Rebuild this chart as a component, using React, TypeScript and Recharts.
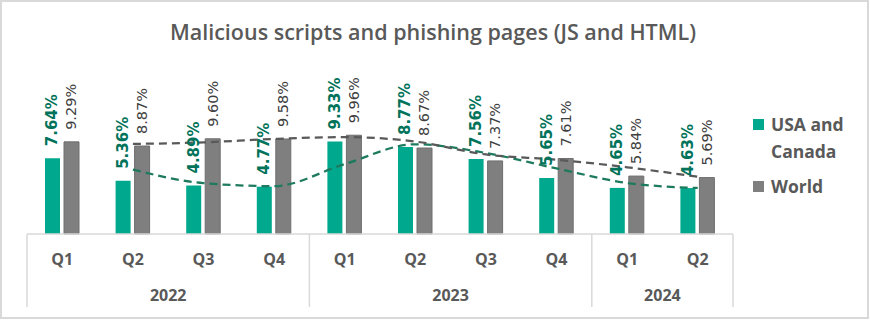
import React from 'react';
import { ComposedChart, Bar, Line, XAxis, YAxis, LabelList } from 'recharts';

const quarters = ['Q1', 'Q2', 'Q3', 'Q4', 'Q1', 'Q2', 'Q3', 'Q4', 'Q1', 'Q2'];
const years = ['2022', '2022', '2022', '2022', '2023', '2023', '2023', '2023', '2024', '2024'];
const usaCanada = [7.64, 5.36, 4.89, 4.77, 9.33, 8.77, 7.56, 5.65, 4.65, 4.63];
const world = [9.29, 8.87, 9.6, 9.58, 9.96, 8.67, 7.37, 7.61, 5.84, 5.69];
// 2-period moving average trendlines
const usaTrend = [null, 6.5, 5.13, 4.83, 7.05, 9.05, 8.17, 6.61, 5.15, 4.64];
const worldTrend = [null, 9.08, 9.24, 9.59, 9.77, 9.32, 8.02, 7.49, 6.73, 5.77];

const data = quarters.map((q, i) => ({
  key: `${years[i]}-${q}`,
  q,
  year: years[i],
  usa: usaCanada[i],
  world: world[i],
  usaTrend: usaTrend[i],
  worldTrend: worldTrend[i],
}));

const W = 870;
const H = 320;
const M = { top: 115, right: 137, bottom: 0, left: 27 };
const PLOT_W = W - M.left - M.right;
const BAND = PLOT_W / data.length;

const GREEN = '#00a88e';
const GREEN_DARK = '#00735a';
const GREY = '#7f7f7f';
const TEXT = '#595959';
const AXIS = '#d9d9d9';

const makeBarLabel = (color: string, bold: boolean) => (props: any) => {
  const { x, y, width, value } = props;
  const cx = Number(x) + Number(width) / 2;
  const ty = Number(y) - 12;
  return (
    <text
      x={cx}
      y={ty}
      transform={`rotate(-90, ${cx}, ${ty})`}
      textAnchor="start"
      dominantBaseline="central"
      fill={color}
      fontFamily="DejaVu Sans"
      fontWeight={bold ? 700 : 400}
      fontSize={bold ? 15 : 14.5}
    >
      {Number(value).toFixed(2) + '%'}
    </text>
  );
};

const CategoryTick = (props: any) => {
  const { x, y, payload } = props;
  const i = payload.index;
  const yr = years[i];
  const isFirst = i === 0 || years[i - 1] !== yr;
  const isLast = i === years.length - 1;
  let groupLen = 0;
  if (isFirst) {
    for (let j = i; j < years.length && years[j] === yr; j++) groupLen++;
  }
  const font = { fontFamily: 'Open Sans', fontWeight: 700, fontSize: 16, fill: TEXT };
  return (
    <g>
      <text x={x} y={y + 25} textAnchor="middle" dominantBaseline="central" {...font}>
        {payload.value}
      </text>
      {isFirst && (
        <>
          <line x1={x - BAND / 2} x2={x - BAND / 2} y1={y} y2={y + 73} stroke={AXIS} strokeWidth={1.5} />
          <text
            x={x + ((groupLen - 1) * BAND) / 2}
            y={y + 61}
            textAnchor="middle"
            dominantBaseline="central"
            {...font}
          >
            {yr}
          </text>
        </>
      )}
      {isLast && (
        <line x1={x + BAND / 2} x2={x + BAND / 2} y1={y} y2={y + 73} stroke={AXIS} strokeWidth={1.5} />
      )}
    </g>
  );
};

const LegendBox = () => (
  <div
    style={{
      position: 'absolute',
      left: 753,
      top: 111,
      fontFamily: 'Open Sans',
      fontWeight: 700,
      fontSize: 17.5,
      color: TEXT,
      lineHeight: '27px',
    }}
  >
    <div style={{ display: 'flex', alignItems: 'flex-start' }}>
      <span style={{ width: 11, height: 11, background: GREEN, marginTop: 8, marginRight: 7, flex: 'none' }} />
      <span>
        USA and
        <br />
        Canada
      </span>
    </div>
    <div style={{ display: 'flex', alignItems: 'flex-start', marginTop: 8 }}>
      <span style={{ width: 11, height: 11, background: GREY, marginTop: 8, marginRight: 7, flex: 'none' }} />
      <span>World</span>
    </div>
  </div>
);

export default function App() {
  return (
    <div style={{ position: 'absolute', left: 0, top: 0, width: W, height: H, background: '#fff' }}>
      <div
        style={{
          position: 'absolute',
          left: 0,
          top: 0,
          width: W - 1,
          height: H - 1,
          boxSizing: 'border-box',
          border: `2px solid ${AXIS}`,
        }}
      />
      <div
        style={{
          position: 'absolute',
          left: 0,
          width: 866,
          top: 17,
          textAlign: 'center',
          fontFamily: 'Open Sans',
          fontWeight: 600,
          fontSize: 21.5,
          color: TEXT,
          lineHeight: '30px',
        }}
      >
        Malicious scripts and phishing pages (JS and HTML)
      </div>
      <div style={{ position: 'absolute', left: 0, top: 0 }}>
        <ComposedChart width={W} height={H} data={data} margin={M} barSize={15} barGap={4}>
          <XAxis
            dataKey="q"
            height={86}
            interval={0}
            axisLine={{ stroke: AXIS, strokeWidth: 1.5 }}
            tickLine={false}
            tickSize={0}
            tickMargin={0}
            tick={<CategoryTick />}
          />
          <YAxis hide domain={[0, 12]} />
          <Bar dataKey="usa" fill={GREEN} isAnimationActive={false}>
            <LabelList dataKey="usa" content={makeBarLabel(GREEN_DARK, true)} />
          </Bar>
          <Bar dataKey="world" fill={GREY} stroke="#6e6e6e" strokeWidth={1} isAnimationActive={false}>
            <LabelList dataKey="world" content={makeBarLabel('#404040', false)} />
          </Bar>
          <Line
            dataKey="usaTrend"
            type="monotone"
            stroke="#1e7a5e"
            strokeWidth={2.25}
            strokeDasharray="8 5"
            dot={false}
            activeDot={false}
            isAnimationActive={false}
          />
          <Line
            dataKey="worldTrend"
            type="monotone"
            stroke="#595959"
            strokeWidth={2.25}
            strokeDasharray="8 5"
            dot={false}
            activeDot={false}
            isAnimationActive={false}
          />
        </ComposedChart>
      </div>
      <LegendBox />
    </div>
  );
}
